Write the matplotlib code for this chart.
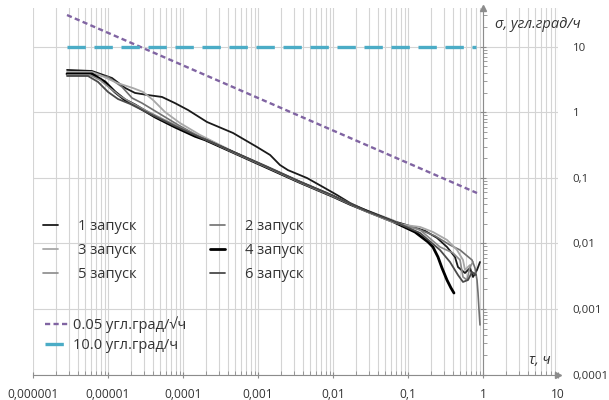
import numpy as np
import matplotlib
matplotlib.use('Agg')
import matplotlib.pyplot as plt
from matplotlib.ticker import LogLocator, FuncFormatter, NullFormatter

plt.rcParams['font.family'] = ['Open Sans', 'DejaVu Sans']

# ---- data ----
tau1 = [2.84e-6, 6.1e-6, 1.13e-5, 1.69e-5, 2.29e-5, 3.41e-5, 5.25e-5, 7.8e-5, 1.17e-4, 2.09e-4,
        4.64e-4, 9.7e-4, 1.45e-3, 1.96e-3, 2.51e-3, 4.5e-3, 7.36e-3, 0.0113, 0.0169, 0.0284,
        0.0631, 0.106, 0.169, 0.244, 0.331, 0.423, 0.464, 0.575, 0.671, 0.736, 0.832, 0.912]
sig1 = [4.42, 4.26, 3.33, 2.35, 1.97, 1.83, 1.71, 1.38, 1.08, 0.71,
        0.483, 0.295, 0.223, 0.157, 0.131, 0.0993, 0.0724, 0.0547, 0.0413, 0.0312,
        0.0220, 0.0184, 0.0155, 0.0121, 0.00881, 0.00620, 0.00436, 0.00353, 0.00421, 0.00307, 0.00393, 0.00520]

tau2 = [2.84e-6, 6.1e-6, 1e-5, 1.54e-5, 2.09e-5, 2.84e-5, 4.94e-5, 9.1e-5, 1.69e-4, 4.64e-4,
        1.32e-3, 3.63e-3, 0.01, 0.0169, 0.0284, 0.0631, 0.124, 0.229, 0.363, 0.494,
        0.593, 0.714, 0.782, 0.832, 0.858, 0.885, 0.912]
sig2 = [3.97, 3.84, 3.45, 2.43, 1.65, 1.38, 0.94, 0.617, 0.42, 0.25,
        0.146, 0.087, 0.053, 0.040, 0.0305, 0.0215, 0.0172, 0.0130, 0.00945, 0.00793,
        0.00665, 0.00558, 0.00421, 0.00276, 0.00175, 0.00096, 0.00057]

tau3 = [2.84e-6, 6.1e-6, 7.8e-6, 1.32e-5, 2.15e-5, 2.93e-5, 3.98e-5, 5.75e-5, 9.1e-5, 1.69e-4,
        4.64e-4, 1.32e-3, 3.63e-3, 0.01, 0.0169, 0.0284, 0.0631, 0.0782, 0.145, 0.215,
        0.331, 0.45, 0.541, 0.575, 0.671]
sig3 = [4.11, 4.11, 3.70, 2.80, 2.34, 2.04, 1.54, 1.01, 0.686, 0.450,
        0.252, 0.149, 0.088, 0.054, 0.0405, 0.0318, 0.0226, 0.0195, 0.0178, 0.0149,
        0.0113, 0.00793, 0.00558, 0.00393, 0.00468]

tau4 = [2.84e-6, 6.1e-6, 9.12e-6, 1.24e-5, 1.69e-5, 2.29e-5, 4.24e-5, 7.8e-5, 1.45e-4, 1.97e-4,
        4.64e-4, 1.32e-3, 3.63e-3, 0.01, 0.0169, 0.0284, 0.0631, 0.124, 0.185, 0.215,
        0.251, 0.284, 0.331, 0.374, 0.41]
sig4 = [3.84, 3.84, 2.90, 2.04, 1.54, 1.29, 0.847, 0.596, 0.43, 0.38,
        0.245, 0.143, 0.085, 0.052, 0.0395, 0.031, 0.0215, 0.0149, 0.0105, 0.00881,
        0.00620, 0.00421, 0.00276, 0.00209, 0.00175]

tau5 = [2.84e-6, 5.75e-6, 7.8e-6, 1.06e-5, 1.45e-5, 1.97e-5, 3.11e-5, 5.75e-5, 1.69e-4, 4.64e-4,
        1.32e-3, 3.63e-3, 0.01, 0.0169, 0.0284, 0.0631, 0.145, 0.267, 0.398, 0.494,
        0.541, 0.612, 0.671, 0.736]
sig5 = [3.70, 3.70, 3.11, 2.34, 1.77, 1.43, 1.08, 0.76, 0.42, 0.245,
        0.144, 0.085, 0.052, 0.0395, 0.0302, 0.0210, 0.0160, 0.00881, 0.00714, 0.00558,
        0.00307, 0.00276, 0.00436, 0.0052]

tau6 = [2.84e-6, 5.41e-6, 7.36e-6, 1e-5, 1.36e-5, 1.97e-5, 3.63e-5, 7.8e-5, 1.69e-4, 4.64e-4,
        1.32e-3, 3.63e-3, 0.01, 0.0169, 0.0284, 0.0631, 0.145, 0.267, 0.363, 0.464,
        0.541, 0.631, 0.714, 0.807]
sig6 = [3.57, 3.57, 2.90, 2.04, 1.59, 1.34, 0.94, 0.617, 0.415, 0.25,
        0.147, 0.087, 0.0535, 0.0402, 0.031, 0.0218, 0.0144, 0.00793, 0.0052, 0.00329,
        0.00258, 0.00276, 0.00366, 0.00329]

run_labels = ['1 запуск', '2 запуск', '3 запуск', '4 запуск', '5 запуск', '6 запуск']
run_colors = ['#1a1a1a', '#707070', '#a8a8a8', '#000000', '#8a8a8a', '#4a4a4a']
run_widths = [1.3, 1.2, 1.3, 2.0, 1.2, 1.3]

arw_tau = [2.84e-6, 0.832]
arw_sig = [30.4, 0.0586]
arw_label = '0.05 угл.град/√ч'
bias_tau = [2.84e-6, 0.80]
bias_sig = [10.0, 10.0]
bias_label = '10.0 угл.град/ч'

xticks = [1e-6, 1e-5, 1e-4, 1e-3, 1e-2, 1e-1, 1, 10]
yticks = [1e-4, 1e-3, 1e-2, 1e-1, 1, 10]

# ---- figure ----
W, H = 609, 400
fig = plt.figure(figsize=(W / 100, H / 100), dpi=100)
x0, x1, yb, yt = 33, 558, 374.5, 8
ax = fig.add_axes([x0 / W, 1 - yb / H, (x1 - x0) / W, (yb - yt) / H])
ax.set_xscale('log')
ax.set_yscale('log')
ax.set_xlim(1e-6, 10)
ax.set_ylim(1e-4, 10 ** 1.59)

grid_c = '#d4d4d4'
ax.grid(True, which='both', axis='x', color=grid_c, lw=0.8)
ax.grid(True, which='major', axis='y', color=grid_c, lw=0.8)
ax.set_axisbelow(True)

taus = [tau1, tau2, tau3, tau4, tau5, tau6]
sigs = [sig1, sig2, sig3, sig4, sig5, sig6]
handles = []
for t, s, c, w, lab in zip(taus, sigs, run_colors, run_widths, run_labels):
    h, = ax.plot(t, s, color=c, lw=w, label=lab, solid_joinstyle='round',
                 solid_capstyle='round')
    handles.append(h)

h_arw, = ax.plot(arw_tau, arw_sig, color='#8064a2', lw=1.7, ls=(0, (2.2, 1.4)), label=arw_label)
h_bias, = ax.plot(bias_tau, bias_sig, color='#4bacc6', lw=2.4, ls=(0, (5.5, 2.6)), label=bias_label)

def fmt(v, pos=None):
    s = np.format_float_positional(v, trim='-')
    return s.replace('.', ',')

ax.xaxis.set_major_locator(LogLocator(base=10, numticks=20))
ax.xaxis.set_minor_locator(LogLocator(base=10, subs=np.arange(2, 10), numticks=20))
ax.set_xticks(xticks)
ax.xaxis.set_major_formatter(FuncFormatter(fmt))
ax.xaxis.set_minor_formatter(NullFormatter())
ax.set_yticks(yticks)
ax.yaxis.set_major_formatter(FuncFormatter(fmt))
ax.yaxis.set_minor_locator(LogLocator(base=10, subs=np.arange(2, 10), numticks=20))
ax.yaxis.set_minor_formatter(NullFormatter())

axc = '#8c8c8c'
for sp in ['top', 'right']:
    ax.spines[sp].set_visible(False)
ax.spines['left'].set_position(('data', 1))
ax.spines['left'].set_color(axc)
ax.spines['bottom'].set_color(axc)

ax.tick_params(axis='x', which='major', direction='inout', length=5, color=axc,
               labelsize=8.6, labelcolor='#333333', pad=7)
ax.tick_params(axis='x', which='minor', direction='in', length=3, color=axc)
ax.tick_params(axis='y', which='both', left=True, right=False, labelleft=False,
               labelright=True, color=axc)
ax.tick_params(axis='y', which='major', direction='inout', length=5,
               labelsize=8.2, labelcolor='#333333', pad=8)
ax.tick_params(axis='y', which='minor', direction='in', length=3)

# axis arrows
ax.plot([1], [1], marker='^', ms=4, color=axc, transform=ax.get_xaxis_transform(), clip_on=False)
ax.plot([1], [0], marker='>', ms=4, color=axc, transform=ax.transAxes, clip_on=False)

# axis titles
fig.text(495 / W, 1 - 25 / H, 'σ, угл.град/ч', style='italic', fontsize=10.5,
         ha='left', va='center', color='#333333')
fig.text(540 / W, 1 - 361 / H, 'τ, ч', style='italic', fontsize=10.5,
         ha='center', va='center', color='#333333')

# legends
order = [0, 2, 4, 1, 3, 5]
leg1 = ax.legend([handles[i] for i in order], [run_labels[i] for i in order],
                 ncol=2, loc='upper left', bbox_to_anchor=(43 / W, 1 - 219 / H),
                 bbox_transform=fig.transFigure, frameon=False, fontsize=10.5,
                 handlelength=1.05, handletextpad=1.35, columnspacing=5.0,
                 labelspacing=0.62, borderpad=0, borderaxespad=0)
for tx in leg1.get_texts():
    tx.set_color('#333333')
ax.add_artist(leg1)
leg2 = ax.legend([h_arw, h_bias], [arw_label, bias_label], loc='upper left',
                 bbox_to_anchor=(45 / W, 1 - 316 / H), bbox_transform=fig.transFigure,
                 frameon=False, fontsize=10.5, handlelength=1.65, handletextpad=0.3,
                 labelspacing=0.38, borderpad=0, borderaxespad=0)
for tx in leg2.get_texts():
    tx.set_color('#333333')

fig.savefig('out.png', dpi=100)
